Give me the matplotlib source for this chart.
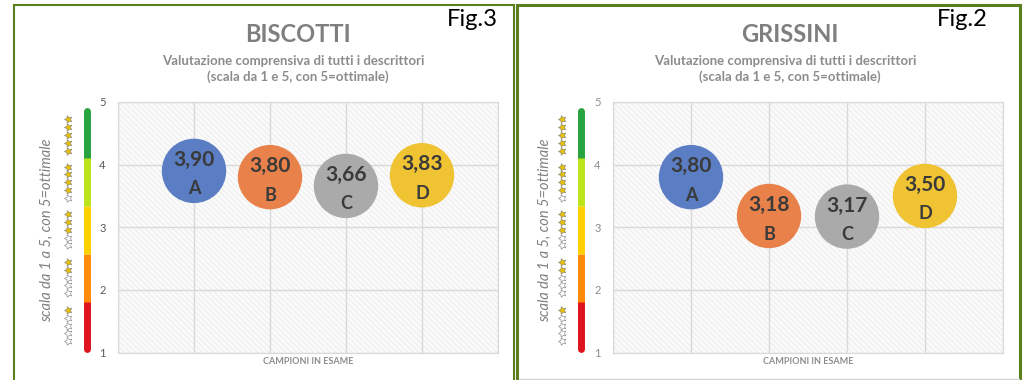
import matplotlib.pyplot as plt
from matplotlib.patches import Rectangle
from matplotlib.lines import Line2D
from matplotlib.transforms import blended_transform_factory

plt.rcParams['font.family'] = ['Lato', 'DejaVu Sans']
plt.rcParams['hatch.linewidth'] = 0.45

# dati
samples = ['A', 'B', 'C', 'D']
biscotti_scores = [3.90, 3.80, 3.66, 3.83]
grissini_scores = [3.80, 3.18, 3.17, 3.50]
bubble_colors = ['#5a7dc3', '#e8824a', '#aaaaaa', '#f0c332']
y_ticks = [1, 2, 3, 4, 5]
star_levels = [1, 2, 3, 4, 5]
band_colors = ['#e0141e', '#ff8a0a', '#ffd000', '#bce41a', '#27a33f']
bands = [1.05, 1.81, 2.58, 3.34, 4.10, 4.85]

W, H = 1023, 380
fig = plt.figure(figsize=(W / 100, H / 100), dpi=100)


def fx(px):
    return px / W


def fy(py):
    return 1 - py / H


def pannello(ax_l, ax_r, bar_x, star_x, lab_x, title_x, figlab_x,
             title, figlab, scores, tick_col):
    ax = fig.add_axes([fx(ax_l), fy(352.5), fx(ax_r - ax_l), (352.5 - 102) / H])
    ax.set_xlim(0, 5)
    ax.set_ylim(1, 5)
    # sfondo tratteggiato
    ax.add_patch(Rectangle((0, 0), 1, 1, transform=ax.transAxes,
                           facecolor='#fafafa', edgecolor='#e6e6e6',
                           hatch='\\' * 6, linewidth=0, zorder=0))
    ax.set_xticks(range(6))
    ax.set_yticks(y_ticks)
    ax.grid(color='#d9d9d9', lw=1)
    ax.set_axisbelow(True)
    ax.tick_params(length=0, labelbottom=False, pad=9, labelsize=8,
                   labelcolor=tick_col)
    for s in ax.spines.values():
        s.set_color('#d9d9d9')
    ax.set_xlabel('CAMPIONI IN ESAME', fontsize=6.5, fontweight='bold',
                  color='#8c8c8c', labelpad=3)

    x = list(range(1, len(samples) + 1))
    ax.scatter(x, scores, s=2150, c=bubble_colors, linewidths=0, zorder=3)
    for xi, v, name in zip(x, scores, samples):
        ax.annotate(f"{v:.2f}".replace('.', ','), (xi, v), xytext=(0, 8),
                    textcoords='offset points', ha='center', va='center',
                    fontsize=15, fontweight='bold', color='#3a3a3a', zorder=4)
        ax.annotate(name, (xi, v), xytext=(0, -13),
                    textcoords='offset points', ha='center', va='center',
                    fontsize=13, fontweight='bold', color='#3a3a3a', zorder=4)

    # barra colorata della scala
    tr = blended_transform_factory(fig.transFigure, ax.transData)
    bx = fx(bar_x)
    order = [0, 4, 1, 2, 3]
    for i in order:
        cap = 'round' if i in (0, 4) else 'butt'
        ax.plot([bx, bx], [bands[i], bands[i + 1]], transform=tr, clip_on=False,
                lw=5, color=band_colors[i], solid_capstyle=cap, zorder=5)

    # stelline
    sx = fx(star_x)
    for i, n in enumerate(star_levels):
        c = (bands[i] + bands[i + 1]) / 2
        for k in range(5):
            filled = k >= 5 - n
            ax.scatter([sx], [c + (k - 2) * 0.125], transform=tr, clip_on=False,
                       marker=(5, 1, 90), s=34,
                       facecolor='#e6c000' if filled else 'white',
                       edgecolor='#8a8a8a', linewidths=0.45, zorder=5)

    fig.text(fx(lab_x), fy(230), 'scala da 1 a 5, con 5=ottimale', rotation=90,
             style='italic', color='#808080', fontsize=10.5, ha='center', va='center')

    fig.text(fx(title_x), fy(35), title, fontsize=17, fontweight='bold',
             color='#7f7f7f', ha='center', va='center')
    fig.text(fx(title_x - 5), fy(61), 'Valutazione comprensiva di tutti i descrittori',
             fontsize=9.5, fontweight='bold', color='#8c8c8c', ha='center', va='center')
    fig.text(fx(title_x), fy(77), '(scala da 1 e 5, con 5=ottimale)',
             fontsize=9.5, fontweight='bold', color='#8c8c8c', ha='center', va='center')
    fig.text(fx(figlab_x), fy(19), figlab, fontsize=17, color='black',
             ha='center', va='center')
    return ax


pannello(118, 498, 87, 68, 47, 298, 472, 'BISCOTTI', 'Fig.3',
         biscotti_scores, '#595959')
pannello(613, 1003, 581, 562, 545, 790, 962, 'GRISSINI', 'Fig.2',
         grissini_scores, '#8c8c8c')

# cornici verdi
fig.add_artist(Rectangle((fx(14), fy(390)), fx(514 - 14), (390 - 5) / H,
                         transform=fig.transFigure, fill=False,
                         edgecolor='#5b7f1f', lw=1.5))
fig.add_artist(Rectangle((fx(517), fy(390)), fx(1020 - 517), (390 - 5) / H,
                         transform=fig.transFigure, fill=False,
                         edgecolor='#5b7f1f', lw=2.2))
fig.add_artist(Line2D([fx(519), fx(1019)], [fy(379), fy(379)],
                      transform=fig.transFigure, color='#d5d5d5', lw=1))

fig.savefig('out.png', dpi=100)
